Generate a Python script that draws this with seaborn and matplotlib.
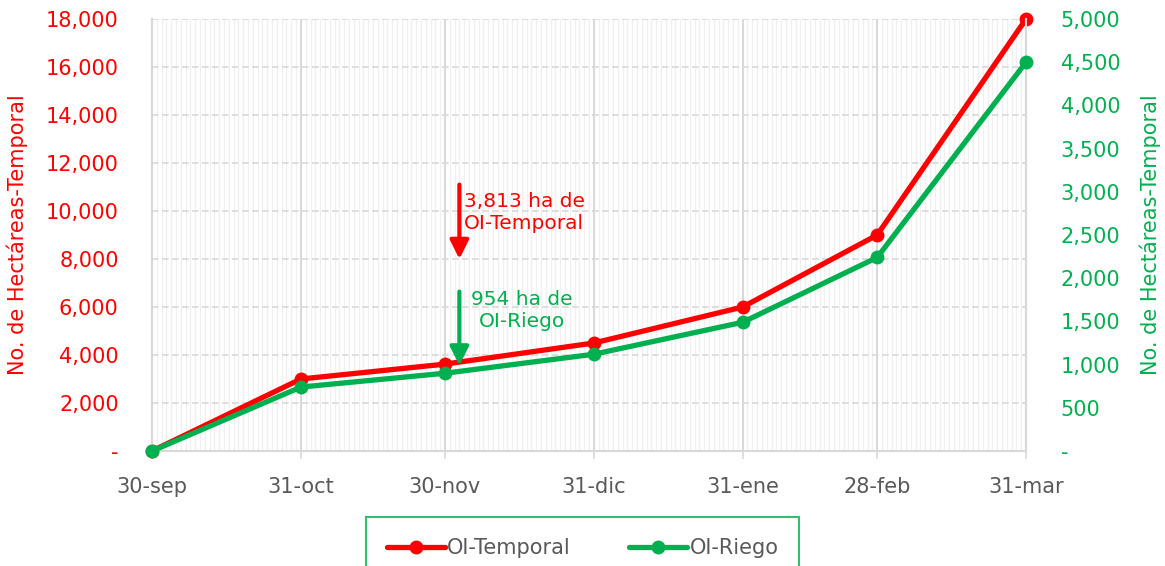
import seaborn as sns
import pandas as pd
import numpy as np
import matplotlib.dates as mdates
from matplotlib import pyplot as plt
from matplotlib.ticker import FuncFormatter

# data
fechas = ["2022-09-30", "2022-10-31", "2022-11-30", "2022-12-31", "2023-01-31", "2023-02-28", "2023-03-31"]
etiquetas = ["30-sep", "31-oct", "30-nov", "31-dic", "31-ene", "28-feb", "31-mar"]
temporal = [0, 3000, 3620, 4500, 6000, 9000, 18000]
riego = [0, 740, 900, 1120, 1490, 2240, 4500]

ROJO = "#FF0000"
VERDE = "#00B050"
GRIS = "#595959"

df = pd.DataFrame({"fecha": pd.to_datetime(fechas), "temporal": temporal, "riego": riego})

sns.set_theme(style="white")
plt.rcParams['font.family'] = ['DejaVu Sans']

fig, ax1 = plt.subplots(figsize=(11.65, 5.66), dpi=100)
fig.subplots_adjust(left=0.1305, right=0.8807, top=0.9664, bottom=0.2032)
ax2 = ax1.twinx()

sns.lineplot(data=df, x="fecha", y="temporal", ax=ax1, color=ROJO, lw=3.8, marker="o",
             markersize=10, markeredgewidth=0, label="OI-Temporal", legend=False, clip_on=False, zorder=5)
sns.lineplot(data=df, x="fecha", y="riego", ax=ax2, color=VERDE, lw=3.8, marker="o",
             markersize=10, markeredgewidth=0, label="OI-Riego", legend=False, clip_on=False, zorder=5)

ax1.set_xlim(df["fecha"].iloc[0], df["fecha"].iloc[-1])
ax1.set_ylim(0, 18000)
ax2.set_ylim(0, 5000)
ax1.set_yticks(np.arange(0, 18001, 2000))
ax2.set_yticks(np.arange(0, 5001, 500))

fmt = FuncFormatter(lambda v, p: "-" if v == 0 else f"{v:,.0f}")
ax1.yaxis.set_major_formatter(fmt)
ax2.yaxis.set_major_formatter(fmt)

ax1.set_xticks(df["fecha"])
ax1.set_xticklabels(etiquetas)
ax1.xaxis.set_minor_locator(mdates.DayLocator())

# grids
ax1.grid(axis="y", which="major", color="#D9D9D9", lw=1.2, ls=(0, (4, 2)))
ax1.grid(axis="x", which="major", color="#D9D9D9", lw=1.5)
ax1.grid(axis="x", which="minor", color="#F0F0F0", lw=1.0)
ax1.set_axisbelow(True)
ax2.grid(False)

for a in (ax1, ax2):
    a.spines["top"].set_visible(False)
    for sp in ["left", "right", "bottom"]:
        a.spines[sp].set_color("#D9D9D9")
        a.spines[sp].set_linewidth(1.5)

FS = 15
ax1.tick_params(axis="x", which="major", length=6, width=1.2, color="#D9D9D9", pad=13,
                labelsize=FS, labelcolor=GRIS, bottom=True)
ax1.tick_params(axis="x", which="minor", length=0)
ax1.tick_params(axis="y", length=0, labelsize=FS, labelcolor=ROJO, pad=24)
ax2.tick_params(axis="y", length=0, labelsize=FS, labelcolor=VERDE, pad=25)
for t in ax2.get_yticklabels():
    t.set_horizontalalignment("left")

ax1.set_xlabel("")
ax1.set_ylabel("No. de Hectáreas-Temporal", color=ROJO, fontsize=FS, labelpad=13)
ax2.set_ylabel("No. de Hectáreas-Temporal", color=VERDE, fontsize=FS, labelpad=14)

# annotations
xa = pd.Timestamp("2022-12-03")
ax1.annotate("", xy=(xa, 8000), xytext=(xa, 11100),
             arrowprops=dict(arrowstyle="-|>", color=ROJO, lw=3, mutation_scale=28, shrinkA=0, shrinkB=0))
ax1.text(pd.Timestamp("2022-12-04"), 9950, "3,813 ha de\nOI-Temporal", color=ROJO, fontsize=14.5,
         ha="left", va="center", linespacing=1.2)
ax2.annotate("", xy=(xa, 990), xytext=(xa, 1845),
             arrowprops=dict(arrowstyle="-|>", color=VERDE, lw=3, mutation_scale=28, shrinkA=0, shrinkB=0))
ax2.text(pd.Timestamp("2022-12-16"), 1630, "954 ha de\nOI-Riego", color=VERDE, fontsize=14.5,
         ha="center", va="center", multialignment="center", linespacing=1.2)

h1, l1 = ax1.get_legend_handles_labels()
h2, l2 = ax2.get_legend_handles_labels()
leg = fig.legend(h1 + h2, l1 + l2, loc="upper center", bbox_to_anchor=(0.5, 1 - 517 / 566),
                 ncol=2, frameon=True, fancybox=False, fontsize=FS, handlelength=2.8,
                 handletextpad=0.1, columnspacing=2.8, borderpad=1.0, borderaxespad=0,
                 labelcolor=GRIS)
leg.get_frame().set_edgecolor(VERDE)
leg.get_frame().set_linewidth(1.5)

fig.savefig("out.png", dpi=100)
